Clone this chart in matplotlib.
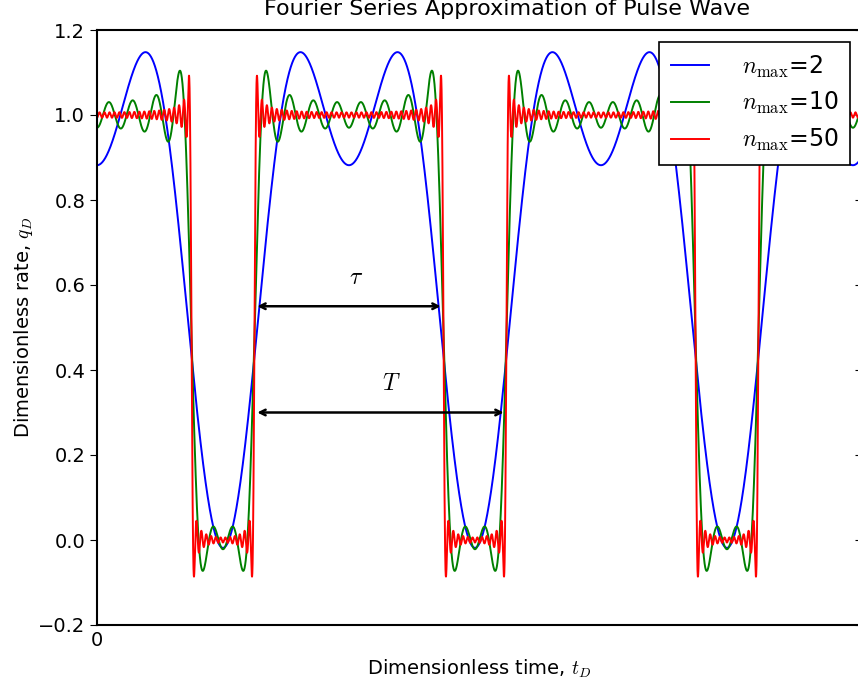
import numpy as np
import matplotlib
matplotlib.use("Agg")
import matplotlib.pyplot as plt

plt.rcParams["mathtext.fontset"] = "cm"

# pulse wave parameters
period = 1.0          # T
pulse_width = 0.75    # tau, high part of each period
n_max_values = [2, 10, 50]
line_colors = ["b", "g", "r"]
t_end = 3.036
y_ticks = [-0.2, 0.0, 0.2, 0.4, 0.6, 0.8, 1.0, 1.2]


def fourier_pulse(t, n_max):
    # partial Fourier sum of a pulse wave centred on t=0
    q = np.full_like(t, pulse_width / period)
    for n in range(1, n_max + 1):
        q += 2.0 / (n * np.pi) * np.sin(n * np.pi * pulse_width / period) \
            * np.cos(2 * np.pi * n * t / period)
    return q


def main():
    t = np.linspace(0, t_end, 8000)

    fig = plt.figure(figsize=(8.58, 6.88), dpi=100)
    ax = fig.add_axes([97 / 858, 63 / 688, 765 / 858, 595 / 688])

    for n_max, c in zip(n_max_values, line_colors):
        ax.plot(t, fourier_pulse(t, n_max), color=c, linewidth=1.4,
                label=r"$n_{\max}$=%d" % n_max)

    ax.set_xlim(0, t_end)
    ax.set_ylim(-0.2, 1.2)
    ax.set_xticks([0])
    ax.set_yticks(y_ticks)
    ax.tick_params(axis="x", length=0, labelsize=14, pad=4)
    ax.tick_params(axis="y", direction="out", length=5, labelsize=14, right=False)
    for s in ax.spines.values():
        s.set_linewidth(1.5)

    right = ax.secondary_yaxis("right")
    right.set_yticks(y_ticks)
    right.tick_params(direction="in", length=5, labelright=False)

    # tau and T annotations, arrows start at a rising edge
    rise = pulse_width / 2 + (period - pulse_width)
    ax.annotate("", xy=(rise, 0.55), xytext=(rise + pulse_width, 0.55),
                arrowprops=dict(arrowstyle="<->", color="k", lw=1.8))
    ax.annotate("", xy=(rise, 0.30), xytext=(rise + period, 0.30),
                arrowprops=dict(arrowstyle="<->", color="k", lw=1.8))
    ax.text(1.03, 0.62, r"$\tau$", fontsize=17, ha="center", va="center")
    ax.text(1.17, 0.37, r"$T$", fontsize=17, ha="center", va="center")

    ax.set_title("Fourier Series Approximation of Pulse Wave", fontsize=16,
                 x=0.536, pad=11)
    ax.set_xlabel(r"Dimensionless time, $t_D$", fontsize=14, labelpad=6)
    ax.set_ylabel(r"Dimensionless rate, $q_D$", fontsize=14, labelpad=2)

    leg = ax.legend(loc="upper right", fontsize=17, fancybox=False,
                    edgecolor="k", framealpha=1, handlelength=1.6,
                    handletextpad=1.4, borderaxespad=0.5, labelspacing=0.45,
                    borderpad=0.5)
    leg.get_frame().set_linewidth(1.2)

    fig.savefig("out.png", dpi=100)


if __name__ == "__main__":
    main()
